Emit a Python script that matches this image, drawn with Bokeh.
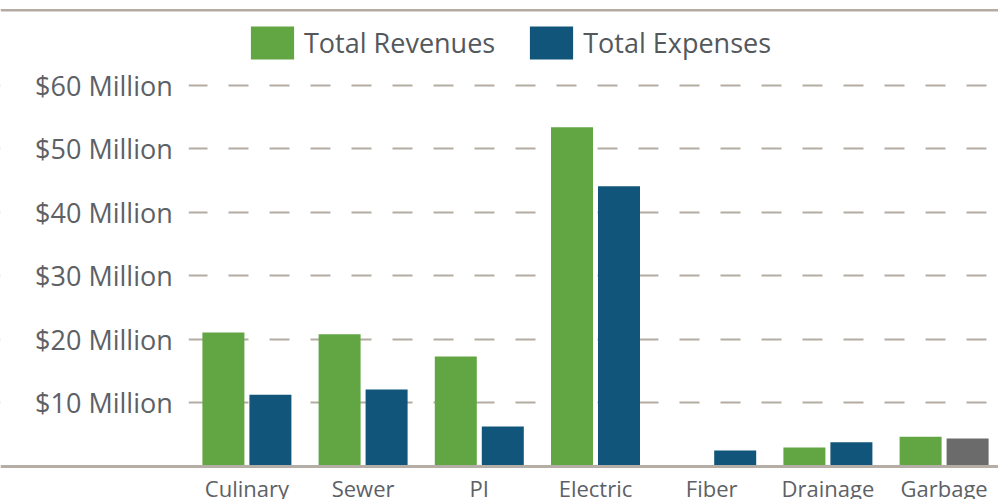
import numpy as np
from bokeh.plotting import figure
from bokeh.models import (ColumnDataSource, Range1d, FixedTicker, Legend, LegendItem,
                          BoxAnnotation, Span)
from bokeh.transform import dodge
from bokeh.embed import file_html
from bokeh.resources import INLINE

# ---- data (values in $ million) ----
categories = ["Culinary", "Sewer", "PI", "Electric", "Fiber", "Drainage", "Garbage"]
revenues = [21.1, 20.8, 17.3, 53.4, 0.1, 3.0, 4.7]
expenses = [11.3, 12.1, 6.3, 44.1, 2.5, 3.8, 4.4]
expense_colors = ["#11567a", "#11567a", "#11567a", "#11567a", "#11567a", "#11567a", "#6b6b6b"]
y_ticks = [10, 20, 30, 40, 50, 60]
y_tick_labels = ["$10 Million", "$20 Million", "$30 Million", "$40 Million",
                 "$50 Million", "$60 Million"]

# ---- layout constants ----
W, H = 998, 499
PX_PER_M = 6.354          # vertical pixels per $1 million
ZERO_PX = 466             # canvas y of $0
CAT0_PX = 188.3           # canvas x where the first category slot begins
GROUP_PX = 116.2          # horizontal pixels per category

GREEN = "#61a643"
GRID = "#b4aca3"
TEXT = "#5d6166"

xs = [i + 0.5 for i in range(len(categories))]
src = ColumnDataSource(dict(x=xs, rev=revenues, exp=expenses, ecolor=expense_colors))

y_range = Range1d(-(H - ZERO_PX) / PX_PER_M, ZERO_PX / PX_PER_M)
x_range = Range1d(-CAT0_PX / GROUP_PX, (W - CAT0_PX) / GROUP_PX)

p = figure(width=W, height=H, x_range=x_range, y_range=y_range,
           output_backend="svg", toolbar_location=None,
           min_border_left=0, min_border_right=0,
           min_border_top=0, min_border_bottom=0)
p.outline_line_color = None
p.background_fill_color = "white"
p.border_fill_color = "white"

bw = 42 / GROUP_PX
off = 23.5 / GROUP_PX
r1 = p.vbar(x=dodge("x", -off, range=p.x_range), top="rev", width=bw, bottom=0,
            fill_color=GREEN, line_color=None, source=src)
r2 = p.vbar(x=dodge("x", off, range=p.x_range), top="exp", width=bw, bottom=0,
            fill_color="ecolor", line_color=None, source=src)

# x axis drawn at $0, spanning the full width
xa = p.xaxis[0]
xa.fixed_location = 0
xa.ticker = FixedTicker(ticks=xs)
xa.major_label_overrides = {x: c for x, c in zip(xs, categories)}
xa.major_tick_line_color = None
xa.minor_tick_line_color = None
xa.axis_line_color = "#b5aea6"
xa.axis_line_width = 3
xa.major_label_standoff = 0
xa.major_label_text_font = "Open Sans"
xa.major_label_text_font_size = "22px"
xa.major_label_text_color = TEXT

# y axis drawn at the start of the category area
ya = p.yaxis[0]
ya.fixed_location = 0
ya.ticker = FixedTicker(ticks=y_ticks)
ya.major_label_overrides = {t: l for t, l in zip(y_ticks, y_tick_labels)}
ya.axis_line_color = None
ya.major_tick_line_color = None
ya.minor_tick_line_color = None
ya.major_label_standoff = 10
ya.major_label_text_font = "Open Sans"
ya.major_label_text_font_size = "27px"
ya.major_label_text_color = TEXT

p.xgrid.visible = False
p.ygrid.ticker = FixedTicker(ticks=y_ticks)
p.ygrid.grid_line_color = GRID
p.ygrid.grid_line_width = 2
p.ygrid.grid_line_dash = "20 21"
p.ygrid.grid_line_dash_offset = 18

# keep the dashed grid out of the label area
p.add_layout(BoxAnnotation(right=0, fill_color="white", fill_alpha=1, line_color=None,
                           level="underlay"))

# top rule
p.add_layout(Span(location=(ZERO_PX - 9.75) / PX_PER_M, dimension="width",
                  line_color=GRID, line_width=2.5))

legend = Legend(items=[LegendItem(label="Total Revenues", renderers=[r1]),
                       LegendItem(label="Total Expenses", renderers=[r2])],
                orientation="horizontal", location=(245, 436),
                glyph_width=54, glyph_height=41, label_standoff=5, spacing=29,
                padding=0, margin=0, border_line_color=None, background_fill_alpha=0,
                label_text_font="Open Sans", label_text_font_size="27px",
                label_text_color="#53585c", label_height=41)
p.add_layout(legend)

open("out.html", "w").write(file_html(p, INLINE))
